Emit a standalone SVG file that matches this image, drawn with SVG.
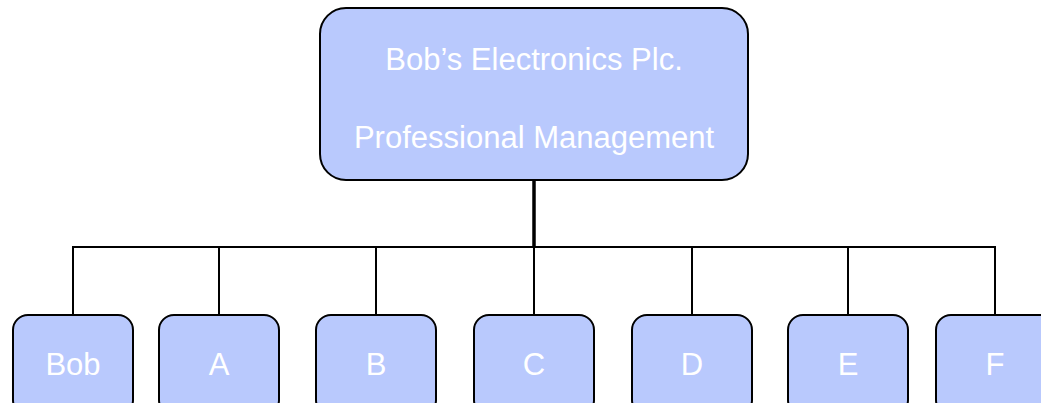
<svg xmlns="http://www.w3.org/2000/svg" width="1041" height="403" viewBox="0 0 1041 403">
  <style>
    .box { fill: #b9c9fd; stroke: #000; stroke-width: 2; }
    .label { fill: #fff; font-family: "Liberation Sans", Arial, sans-serif; font-size: 31px; text-anchor: middle; }
    .wire { fill: none; stroke: #000; stroke-width: 2; }
  </style>
  <rect width="1041" height="403" fill="#fff"/>

  <g id="connectors">
    <line class="wire" x1="534" y1="180" x2="534" y2="247" style="stroke-width:3.5"/>
    <line class="wire" x1="72" y1="247" x2="996" y2="247"/>
    <line class="wire" x1="73" y1="246" x2="73" y2="315"/>
    <line class="wire" x1="219" y1="246" x2="219" y2="315"/>
    <line class="wire" x1="376" y1="246" x2="376" y2="315"/>
    <line class="wire" x1="534" y1="246" x2="534" y2="315"/>
    <line class="wire" x1="692" y1="246" x2="692" y2="315"/>
    <line class="wire" x1="848" y1="246" x2="848" y2="315"/>
    <line class="wire" x1="995" y1="246" x2="995" y2="315"/>
  </g>

  <g id="root">
    <rect class="box" x="320" y="8" width="428" height="172" rx="26"/>
    <text class="label" x="534" y="70">Bob’s Electronics Plc.</text>
    <text class="label" x="534" y="148">Professional Management</text>
  </g>

  <g id="bob">
    <rect class="box" x="13" y="315" width="120" height="100" rx="15"/>
    <text class="label" x="73" y="375">Bob</text>
  </g>
  <g id="a">
    <rect class="box" x="159" y="315" width="120" height="100" rx="15"/>
    <text class="label" x="219" y="375">A</text>
  </g>
  <g id="b">
    <rect class="box" x="316" y="315" width="120" height="100" rx="15"/>
    <text class="label" x="376" y="375">B</text>
  </g>
  <g id="c">
    <rect class="box" x="474" y="315" width="120" height="100" rx="15"/>
    <text class="label" x="534" y="375">C</text>
  </g>
  <g id="d">
    <rect class="box" x="632" y="315" width="120" height="100" rx="15"/>
    <text class="label" x="692" y="375">D</text>
  </g>
  <g id="e">
    <rect class="box" x="788" y="315" width="120" height="100" rx="15"/>
    <text class="label" x="848" y="375">E</text>
  </g>
  <g id="f">
    <rect class="box" x="936" y="315" width="120" height="100" rx="15"/>
    <text class="label" x="995" y="375">F</text>
  </g>
</svg>
